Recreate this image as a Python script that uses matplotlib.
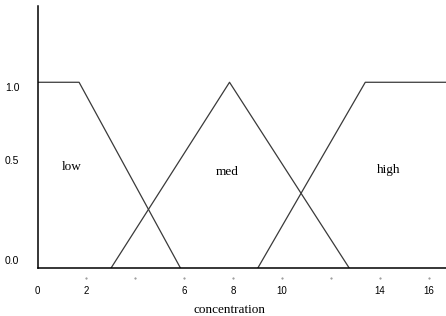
import matplotlib.pyplot as plt
from matplotlib.transforms import blended_transform_factory

# membership functions (breakpoints)
low_x = [0, 1.7, 5.85]
low_y = [1, 1, 0]
med_x = [3, 7.85, 12.75]
med_y = [0, 1, 0]
high_x = [9, 13.4, 16.7]
high_y = [0, 1, 1]

set_names = ["low", "med", "high"]
xtick_vals = [0, 2, 6, 8, 10, 14, 16]
xtick_labels = ["0", "2", "6", "8", "10", "14", "16"]
xdots = [2, 4, 6, 8, 10, 12, 14, 16]
ytick_labels = ["0.0", "0.5", "1.0"]

fig = plt.figure(figsize=(4.46, 3.16), dpi=100)
ax = fig.add_axes([37.5 / 446, 47.7 / 316, 408.5 / 446, 262.3 / 316])

line_kw = dict(color="#3a3a3a", lw=0.9)
ax.plot(low_x, low_y, **line_kw)
ax.plot(med_x, med_y, **line_kw)
ax.plot(high_x, high_y, **line_kw)

ax.set_xlim(0, 16.7)
ax.set_ylim(0, 1.41)

for s in ["top", "right"]:
    ax.spines[s].set_visible(False)
ax.spines["left"].set_linewidth(1.1)
ax.spines["bottom"].set_linewidth(1.1)

ax.set_xticks(xtick_vals)
ax.set_xticklabels(xtick_labels, family="Liberation Sans", fontsize=7)
ax.tick_params(axis="x", length=0, pad=13)

# y labels sit a little off the true levels in the original
ax.set_yticks([0.045, 0.58, 0.975])
ax.set_yticklabels(ytick_labels, family="Liberation Sans", fontsize=7.5)
ax.tick_params(axis="y", length=0, pad=13)

# little dot ticks under the axis
trans = blended_transform_factory(ax.transData, ax.transAxes)
ax.scatter(xdots, [-10 / 262.3] * len(xdots), s=0.25, color="#888888",
           transform=trans, clip_on=False)

# set names
ax.text(1.39, 0.545, set_names[0], family="Liberation Serif", fontsize=9.5,
        ha="center", va="center")
ax.text(7.76, 0.515, set_names[1], family="Liberation Serif", fontsize=9.5,
        ha="center", va="center")
ax.text(14.37, 0.526, set_names[2], family="Liberation Serif", fontsize=9.5,
        ha="center", va="center")

ax.set_xlabel("concentration", family="Liberation Serif", fontsize=9.5)
ax.xaxis.set_label_coords(0.471, -0.135)

fig.savefig("out.png", dpi=100)
